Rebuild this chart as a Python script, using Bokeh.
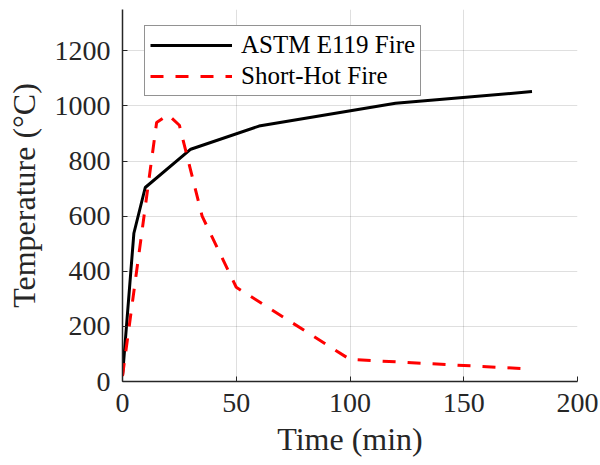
from bokeh.plotting import figure
from bokeh.models import Range1d, FixedTicker, Legend, LegendItem
from bokeh.embed import file_html
from bokeh.resources import INLINE

# Data
astm_time = [0, 5, 10, 30, 60, 120, 180]
astm_temp = [20, 538, 704, 843, 927, 1010, 1052]
short_time = [0, 15, 20, 25, 35, 50, 100, 180]
short_temp = [20, 940, 968, 930, 600, 342, 80, 45]
x_ticks = [0, 50, 100, 150, 200]
y_ticks = [0, 200, 400, 600, 800, 1000, 1200]
series_names = ["ASTM E119 Fire", "Short-Hot Fire"]

FONT = "Liberation Serif"
AX = "#262626"

p = figure(width=600, height=465, output_backend="svg", toolbar_location=None,
           x_range=Range1d(0, 200), y_range=Range1d(0, 1350),
           min_border_left=122, min_border_right=23, min_border_top=9, min_border_bottom=84)
p.outline_line_color = None
p.background_fill_color = "white"
p.border_fill_color = "white"

l1 = p.line(astm_time, astm_temp, line_color="black", line_width=3)
l2 = p.line(short_time, short_temp, line_color="#ff0000", line_width=3, line_dash="13 12")

for ax in (p.xaxis[0], p.yaxis[0]):
    ax.axis_line_color = AX
    ax.axis_line_width = 1.5
    ax.major_tick_line_color = AX
    ax.major_tick_in = 5
    ax.major_tick_out = 0
    ax.minor_tick_line_color = None
    ax.major_label_text_font = FONT
    ax.major_label_text_font_size = "28px"
    ax.major_label_text_color = AX
    ax.axis_label_text_font = FONT
    ax.axis_label_text_font_size = "32px"
    ax.axis_label_text_font_style = "normal"
    ax.axis_label_text_color = AX

p.xaxis[0].ticker = FixedTicker(ticks=x_ticks)
p.yaxis[0].ticker = FixedTicker(ticks=y_ticks)
p.xaxis[0].axis_label = "Time (min)"
p.yaxis[0].axis_label = "Temperature (\u00b0C)"
p.xaxis[0].major_label_standoff = 12
p.yaxis[0].major_label_standoff = 12
p.xaxis[0].axis_label_standoff = 6
p.yaxis[0].axis_label_standoff = 10

p.xgrid[0].ticker = FixedTicker(ticks=x_ticks)
p.ygrid[0].ticker = FixedTicker(ticks=y_ticks)
for g in (p.xgrid[0], p.ygrid[0]):
    g.grid_line_color = AX
    g.grid_line_alpha = 0.15
    g.grid_line_width = 1

legend = Legend(items=[LegendItem(label=series_names[0], renderers=[l1]),
                       LegendItem(label=series_names[1], renderers=[l2])],
                location=(22, 285))
legend.margin = 0
legend.padding = 5
legend.spacing = 3
legend.glyph_width = 82
legend.glyph_height = 24
legend.label_height = 24
legend.label_standoff = 9
legend.label_text_font = FONT
legend.label_text_font_size = "25px"
legend.label_text_color = "black"
legend.border_line_color = AX
legend.border_line_width = 1.5
legend.background_fill_color = "white"
legend.background_fill_alpha = 1
p.add_layout(legend, "center")

open("out.html", "w").write(file_html(p, INLINE))
